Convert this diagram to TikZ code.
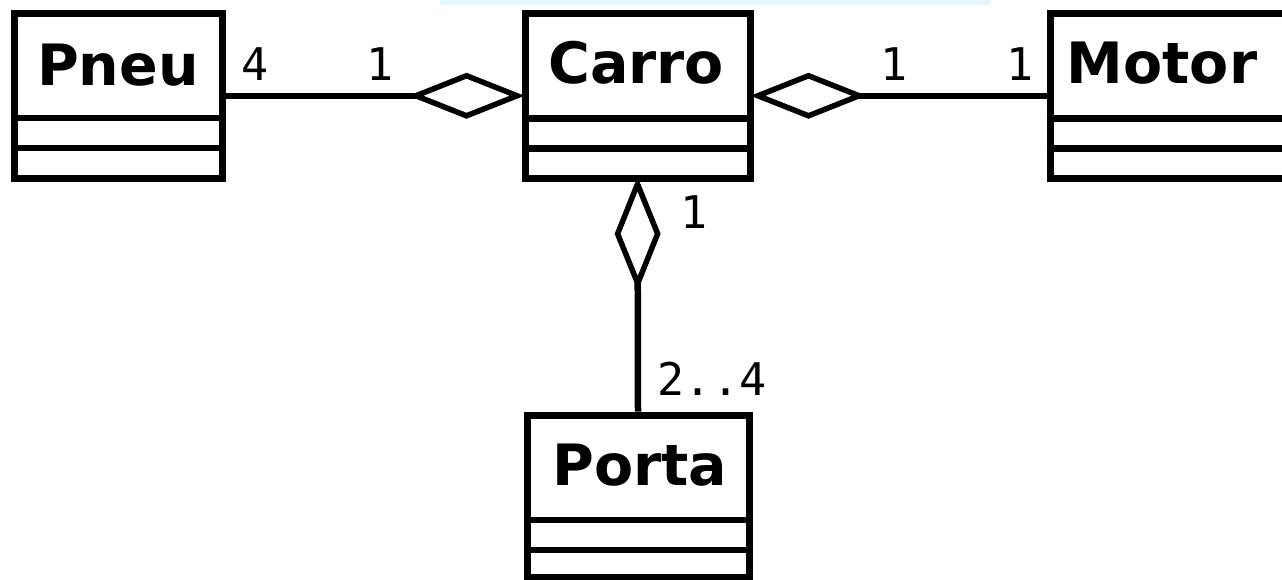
\documentclass[tikz,border=0pt]{standalone}
\usepackage{fontspec}
\usetikzlibrary{arrows.meta}
\newfontfamily\classfont{DejaVu Sans}
\newfontfamily\multfont{DejaVu Sans Mono}
\definecolor{smudge}{RGB}{226,248,252}
\tikzset{
  classbox/.style={draw=black, line width=7pt, fill=white, inner sep=0pt, rectangle},
  divider/.style={draw=black, line width=6.5pt},
  classname/.style={font=\classfont\bfseries\fontsize{57}{60}\selectfont, anchor=base, inner sep=0pt},
  mult/.style={font=\multfont\fontsize{45}{48}\selectfont, anchor=base, inner sep=0pt, text=black},
  aggr/.style={draw=black, line width=6.5pt, -{Diamond[fill=white, length=116pt, width=46pt, line width=5.5pt]}},
  aggrv/.style={draw=black, line width=6.5pt, -{Diamond[fill=white, length=114pt, width=46pt, line width=5.5pt]}},
}
\begin{document}
\begin{tikzpicture}[x=1pt, y=-1pt]
\useasboundingbox (0,0) rectangle (1282,579);
\clip (0,0) rectangle (1282,579);
\fill[smudge] (440,0) rectangle (990,5);
% classes
\node[classbox, minimum width=208pt, minimum height=165pt] (pneu) at (118,95.75) {};
\node[classbox, minimum width=225pt, minimum height=165pt] (carro) at (637.5,95.75) {};
\node[classbox, minimum width=250pt, minimum height=165pt] (motor) at (1175,95.75) {};
\node[classbox, minimum width=222pt, minimum height=162pt] (porta) at (638,496) {};
% names
\node[classname] (pneuname) at (118,85) {Pneu};
\node[classname] (carroname) at (636,83) {Carro};
\node[classname] (motorname) at (1162,83) {Motor};
\node[classname] (portaname) at (640,485) {Porta};
% dividers
\draw[divider] (pneu.west |- 0,118) -- (pneu.east |- 0,118);
\draw[divider] (pneu.west |- 0,148) -- (pneu.east |- 0,148);
\draw[divider] (carro.west |- 0,118.5) -- (carro.east |- 0,118.5);
\draw[divider] (carro.west |- 0,148.5) -- (carro.east |- 0,148.5);
\draw[divider] (motor.west |- 0,118.5) -- (motor.east |- 0,118.5);
\draw[divider] (motor.west |- 0,148.5) -- (motor.east |- 0,148.5);
\draw[divider] (porta.west |- 0,520) -- (porta.east |- 0,520);
\draw[divider] (porta.west |- 0,550) -- (porta.east |- 0,550);
% connectors
\draw[aggr] (pneu.east) -- ([xshift=3pt]carro.west);
\draw[aggr] (motor.west) -- ([xshift=-3pt]carro.east);
\draw[aggrv] (porta.north) -- ([yshift=5pt]carro.south);
% multiplicities
\node[mult] (m1) at (255,80) {4};
\node[mult] (m2) at (380,80) {1};
\node[mult] (m3) at (894,80) {1};
\node[mult] (m4) at (1020,80) {1};
\node[mult] (m5) at (694,228) {1};
\node[mult] (m6) at (712,395) {2..4};
\end{tikzpicture}
\end{document}
